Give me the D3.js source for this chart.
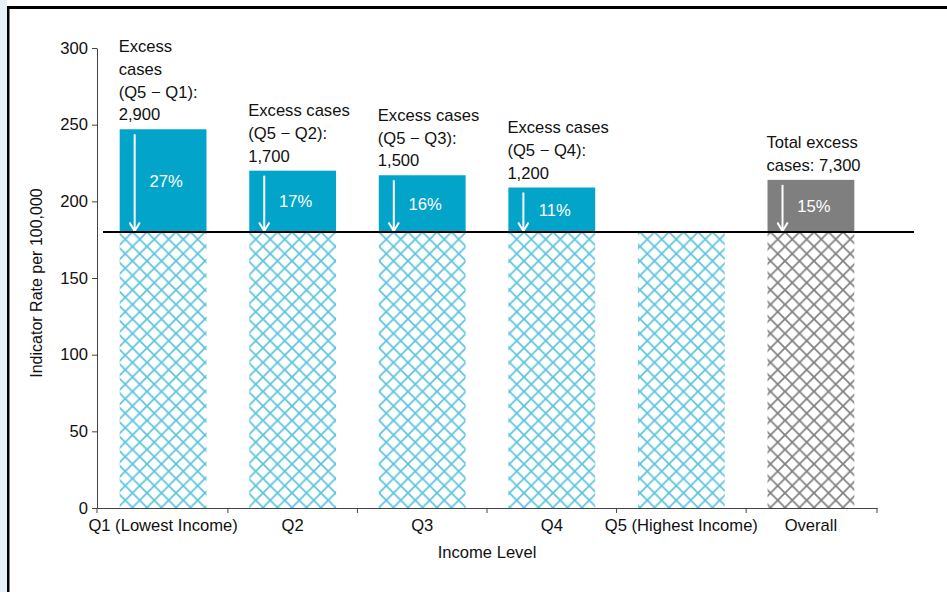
<!DOCTYPE html>
<html lang="en">
<head>
  <meta charset="UTF-8">
  <title>Excess cases by income level</title>
  <script src="https://cdnjs.cloudflare.com/ajax/libs/d3/7.8.5/d3.min.js"></script>
  <style>
    body { margin: 0; background: #fff; }
    text { font-family: "Liberation Sans", Arial, sans-serif; }
  </style>
</head>
<body>
  <svg width="947" height="592"></svg>
  <script>
    const categories = ["Q1 (Lowest Income)", "Q2", "Q3", "Q4", "Q5 (Highest Income)", "Overall"];
    const rates = [247, 220, 217, 209, 180, 214];
    const percents = ["27%", "17%", "16%", "11%", null, "15%"];
    const notes = [
      ["Excess", "cases", "(Q5 \u2212 Q1):", "2,900"],
      ["Excess cases", "(Q5 \u2212 Q2):", "1,700"],
      ["Excess cases", "(Q5 \u2212 Q3):", "1,500"],
      ["Excess cases", "(Q5 \u2212 Q4):", "1,200"],
      [],
      ["Total excess", "cases: 7,300"]
    ];
    const referenceRate = 180; // Q5 rate
    const yTicks = [0, 50, 100, 150, 200, 250, 300];

    const fs = 16.6;
    const svg = d3.select("svg");

    // frame like the source slide
    svg.append("rect").attr("x", 0).attr("y", 0).attr("width", 7).attr("height", 592).attr("fill", "#e6f2f9");
    svg.append("rect").attr("x", 7).attr("y", 6).attr("width", 940).attr("height", 3).attr("fill", "#000");
    svg.append("rect").attr("x", 7).attr("y", 6).attr("width", 2.5).attr("height", 586).attr("fill", "#000");

    const x = d3.scaleBand()
      .domain(categories)
      .range([97, 877])
      .paddingInner(0.33)
      .paddingOuter(0.175);

    const y = d3.scaleLinear().domain([0, 300]).range([508, 48]);

    // hatch patterns
    const defs = svg.append("defs");
    function hatch(id, color) {
      const p = defs.append("pattern")
        .attr("id", id)
        .attr("patternUnits", "userSpaceOnUse")
        .attr("x", 2)
        .attr("width", 14.5).attr("height", 14.5);
      p.append("path")
        .attr("d", "M0,0L14.5,14.5M14.5,0L0,14.5")
        .attr("stroke", color).attr("stroke-width", 1.8).attr("fill", "none");
    }
    hatch("hatchBlue", "#5ec5de");
    hatch("hatchGray", "#828282");

    const isOverall = d => d === "Overall";

    const bars = svg.append("g")
      .selectAll("g")
      .data(categories)
      .enter().append("g");

    // hatched part: from 0 to the reference rate
    bars.append("rect")
      .attr("x", d => x(d))
      .attr("width", x.bandwidth())
      .attr("y", y(referenceRate))
      .attr("height", y(0) - y(referenceRate))
      .attr("fill", d => isOverall(d) ? "url(#hatchGray)" : "url(#hatchBlue)");

    // excess part: from the reference rate to the category rate
    bars.filter((d, i) => rates[i] > referenceRate).append("rect")
      .attr("x", d => x(d))
      .attr("width", x.bandwidth())
      .attr("y", d => y(rates[categories.indexOf(d)]))
      .attr("height", d => y(referenceRate) - y(rates[categories.indexOf(d)]))
      .attr("fill", d => isOverall(d) ? "#7f7f80" : "#03a4c9");

    // white arrows
    defs.append("marker")
      .attr("id", "head")
      .attr("viewBox", "0 0 10 12")
      .attr("refX", 9).attr("refY", 6)
      .attr("markerWidth", 5).attr("markerHeight", 6)
      .attr("markerUnits", "strokeWidth")
      .attr("orient", "auto")
      .append("path")
      .attr("d", "M0.5,0.8L9,6L0.5,11.2")
      .attr("fill", "none").attr("stroke", "#fff").attr("stroke-width", 2);

    bars.filter((d, i) => rates[i] > referenceRate).append("line")
      .attr("x1", d => x(d) + 15).attr("x2", d => x(d) + 15)
      .attr("y1", d => y(rates[categories.indexOf(d)]) + 5)
      .attr("y2", y(referenceRate) - 1)
      .attr("stroke", "#fff").attr("stroke-width", 2)
      .attr("marker-end", "url(#head)");

    // percentage labels
    bars.filter((d, i) => percents[i]).append("text")
      .attr("x", d => x(d) + x.bandwidth() / 2 + 3)
      .attr("y", d => (y(rates[categories.indexOf(d)]) + y(referenceRate)) / 2)
      .attr("dy", "0.36em")
      .attr("text-anchor", "middle")
      .attr("fill", "#fff")
      .attr("font-size", fs)
      .text((d, i) => percents[categories.indexOf(d)]);

    // annotations above bars
    bars.each(function(d) {
      const i = categories.indexOf(d);
      const lines = notes[i];
      const top = y(rates[i]);
      const t = d3.select(this).append("text")
        .attr("font-size", fs)
        .attr("fill", "#111");
      lines.forEach((line, k) => {
        t.append("tspan")
          .attr("x", x(d) - 1)
          .attr("y", top - 9 - (lines.length - 1 - k) * 22.7)
          .text(line);
      });
    });

    // reference line
    svg.append("line")
      .attr("x1", 103).attr("x2", 914)
      .attr("y1", y(referenceRate)).attr("y2", y(referenceRate))
      .attr("stroke", "#000").attr("stroke-width", 2.2);

    // y axis
    const yAxis = svg.append("g")
      .attr("transform", "translate(97,0)")
      .call(d3.axisLeft(y).tickValues(yTicks).tickSize(5).tickSizeOuter(0).tickPadding(4));
    yAxis.selectAll("text").attr("font-size", fs).attr("fill", "#111").style("font-family", "Liberation Sans, Arial, sans-serif");
    yAxis.select(".domain").attr("stroke", "#444");
    yAxis.selectAll(".tick line").attr("stroke", "#444");

    // x axis with labels under bars and ticks on band edges
    const xAxis = svg.append("g")
      .attr("transform", "translate(0,508)")
      .call(d3.axisBottom(x).tickSize(0).tickSizeOuter(0).tickPadding(11));
    xAxis.selectAll("text").attr("font-size", fs).attr("fill", "#111").style("font-family", "Liberation Sans, Arial, sans-serif");
    xAxis.select(".domain").attr("stroke", "#444");

    const edges = categories.map(d => x(d) - x.step() * x.paddingInner() / 2);
    edges.push(x.range()[1]);
    edges[0] = x.range()[0];
    xAxis.selectAll(".edge")
      .data(edges)
      .enter().append("line")
      .attr("x1", d => d).attr("x2", d => d)
      .attr("y1", 0).attr("y2", 5)
      .attr("stroke", "#444");

    // axis titles
    svg.append("text")
      .attr("x", (x.range()[0] + x.range()[1]) / 2)
      .attr("y", 558)
      .attr("text-anchor", "middle")
      .attr("font-size", fs)
      .attr("fill", "#111")
      .text("Income Level");

    svg.append("text")
      .attr("transform", "translate(42,283) rotate(-90)")
      .attr("text-anchor", "middle")
      .attr("font-size", 16)
      .attr("fill", "#111")
      .text("Indicator Rate per 100,000");
  </script>
</body>
</html>
